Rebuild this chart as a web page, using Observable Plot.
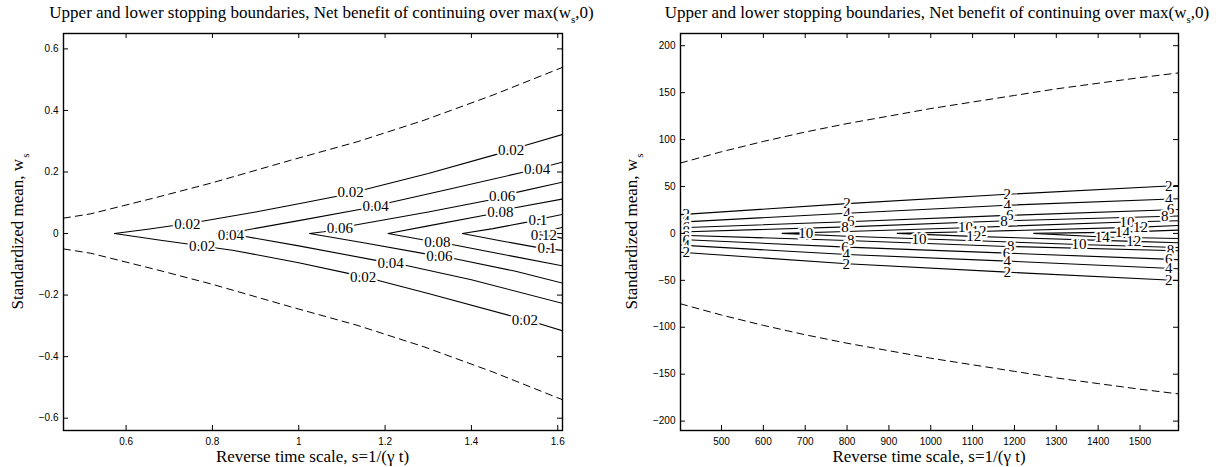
<!DOCTYPE html>
<html><head><meta charset="utf-8">
<script src="https://cdn.jsdelivr.net/npm/d3@7"></script>
<script src="https://cdn.jsdelivr.net/npm/@observablehq/plot@0.6"></script>
<style>
body{margin:0;background:#fff;}
#wrap{display:flex;width:1224px;height:467px;overflow:hidden;}
</style></head><body><div id="wrap"></div>
<script>
// ---------- LEFT PANEL DATA ----------
const leftXTicks = [0.6, 0.8, 1, 1.2, 1.4, 1.6];
const leftYTicks = [-0.6, -0.4, -0.2, 0, 0.2, 0.4, 0.6];
const leftBoundS = [0.455, 0.518, 0.672, 0.8, 0.981, 1.135, 1.29, 1.45, 1.611];
const leftBoundUpper = [0.05, 0.064, 0.118, 0.165, 0.238, 0.298, 0.368, 0.45, 0.54];
const leftBoundLower = [-0.05, -0.064, -0.118, -0.165, -0.238, -0.298, -0.368, -0.45, -0.54];
const leftLevels = ["0.02", "0.04", "0.06", "0.08", "0.1", "0.12"];
const leftContourS = [
  [1.611, 1.522, 1.46, 1.3, 1.151, 1.089, 1.0, 0.9, 0.776, 0.711, 0.65, 0.573, 0.68, 0.76, 0.85, 1.0, 1.12, 1.18, 1.3, 1.49, 1.556, 1.611],
  [1.611, 1.583, 1.522, 1.35, 1.209, 1.147, 1.0, 0.873, 0.81, 0.873, 1.0, 1.182, 1.244, 1.4, 1.611],
  [1.611, 1.502, 1.44, 1.3, 1.128, 1.058, 1.025, 1.15, 1.294, 1.359, 1.5, 1.611],
  [1.611, 1.498, 1.437, 1.3, 1.207, 1.29, 1.352, 1.5, 1.611],
  [1.611, 1.579, 1.529, 1.45, 1.379, 1.47, 1.552, 1.611],
  [1.611, 1.58, 1.537, 1.58, 1.611]
];
const leftContourW = [
  [0.322, 0.285, 0.258, 0.195, 0.142, 0.121, 0.097, 0.07, 0.04, 0.026, 0.014, 0, -0.022, -0.037, -0.055, -0.095, -0.131, -0.151, -0.195, -0.267, -0.292, -0.316],
  [0.232, 0.222, 0.2, 0.145, 0.1, 0.08, 0.042, 0.01, 0, -0.009, -0.04, -0.088, -0.102, -0.15, -0.227],
  [0.167, 0.133, 0.108, 0.07, 0.027, 0.006, 0, -0.03, -0.066, -0.081, -0.122, -0.161],
  [0.112, 0.083, 0.061, 0.025, 0, -0.021, -0.035, -0.075, -0.105],
  [0.062, 0.053, 0.037, 0.016, 0, -0.024, -0.045, -0.055],
  [0.02, 0.01, 0, -0.008, -0.015]
];
const leftLabelS = [0.742, 1.12, 1.492, 0.776, 1.149, 1.524, 1.178, 1.552, 0.843, 1.213, 1.095, 1.471, 1.326, 1.467, 1.321, 1.554, 1.575, 1.568];
const leftLabelW = [0.03, 0.133, 0.271, -0.04, -0.141, -0.28, 0.09, 0.21, -0.004, -0.095, 0.017, 0.12, -0.073, 0.071, -0.027, 0.045, -0.049, -0.004];
const leftLabelT = ["0.02","0.02","0.02","0.02","0.02","0.02","0.04","0.04","0.04","0.04","0.06","0.06","0.06","0.08","0.08","0.1","0.1","0.12"];

// ---------- RIGHT PANEL DATA ----------
const rightXTicks = [500, 600, 700, 800, 900, 1000, 1100, 1200, 1300, 1400, 1500];
const rightYTicks = [-200, -150, -100, -50, 0, 50, 100, 150, 200];
const rightBoundS = [402, 500, 600, 700, 800, 900, 1000, 1100, 1200, 1300, 1400, 1500, 1592];
const rightBoundUpper = [75, 87, 98, 108, 117, 125, 133, 140, 147, 154, 160, 166, 171];
const rightBoundLower = [-75, -87, -98, -108, -117, -125, -133, -140, -147, -154, -160, -166, -171];
const rightLevels = ["2", "2", "4", "4", "6", "6", "8", "8", "10", "12", "14"];
const rightContourS = [
  [402, 800, 1183, 1592],
  [402, 800, 1183, 1592],
  [402, 800, 1183, 1592],
  [402, 800, 1183, 1592],
  [402, 800, 1183, 1592],
  [402, 800, 1183, 1592],
  [402, 800, 1183, 1592],
  [402, 800, 1183, 1592],
  [1592, 1469, 1083, 800, 645, 800, 972, 1354, 1592],
  [1592, 1501, 1115, 920, 1100, 1485, 1592],
  [1592, 1458, 1246, 1410, 1592]
];
const rightContourW = [
  [20, 31.7, 41.7, 51],
  [-20, -32.4, -41.3, -50.2],
  [12, 21.5, 30, 37],
  [-12.5, -22.5, -29.5, -37.7],
  [6, 12.5, 19.2, 25.5],
  [-6.5, -14.6, -21, -28],
  [1.5, 7, 13.5, 18.5],
  [-2, -7.5, -13.9, -18.5],
  [13.5, 12.1, 6.1, 2, 0, -3, -5.7, -11.8, -15],
  [8.5, 6.7, 2.1, 0, -3.2, -8.5, -10],
  [3.5, 1.4, 0, -3.9, -5.5]
];
const rightLabelS = [416,416,416,416,416,416,416,416, 800,800,809,795, 809,795,798,798, 701, 972, 1083,1115,1103, 1183,1183,1189,1175, 1191,1181,1183,1183, 1354,1410,1469,1501,1458,1485, 1569,1569,1573,1559, 1573,1569,1569,1569];
const rightLabelW = [20.5,12.5,6.3,2.5,-2.5,-7,-12.8,-20.4, 31.7,21.5,12.7,6.8, -7.6,-14.5,-22.5,-32.4, 0.3, -5.7, 6.1,2.1,-3.2, 41.7,30,19.3,13.3, -13.9,-21,-29.5,-41.3, -11.8,-3.9,12.1,6.7,1.4,-8.5, 50.3,36.2,25.3,18.3, -18.3,-27.8,-37.5,-50];
const rightLabelT = ["2","4","6","8","8","6","4","2", "2","4","6","8", "8","6","4","2", "10", "10", "10","12","12", "2","4","6","8", "8","6","4","2", "10","14","10","12","14","12", "2","4","6","8","8","6","4","2"];

// ---------- BUILD ----------
const H = 467, MT = 33, MB = 37;
const serif = "'Liberation Serif', 'Times New Roman', serif";
const sans = "'Liberation Sans', Arial, Helvetica, sans-serif";
const fmt = d3.format("~g");

function toRows(sArr, wArr, id) { return sArr.map((s, i) => ({s, w: wArr[i], id})); }

function panel(o) {
  const pw = o.width - o.ml - o.mr, ph = H - MT - MB;
  const bounds = [...toRows(o.bS, o.bU, "u"), ...toRows(o.bS, o.bL, "l")];
  const contours = o.cS.flatMap((sArr, i) => toRows(sArr, o.cW[i], "c" + i));
  const labels = o.lS.map((s, i) => ({s, w: o.lW[i], t: o.lT[i]}));
  const svg = Plot.plot({
    width: o.width, height: H,
    marginLeft: o.ml, marginRight: o.mr, marginTop: MT, marginBottom: MB,
    style: {fontFamily: sans, fontSize: "10px", background: "#fff", color: "#000", overflow: "visible"},
    x: {domain: o.xDomain},
    y: {domain: o.yDomain},
    marks: [
      Plot.line(bounds, {x: "s", y: "w", z: "id", stroke: "black", strokeWidth: 1, strokeDasharray: "7,5", clip: true}),
      Plot.line(contours, {x: "s", y: "w", z: "id", stroke: "black", strokeWidth: 1.1, clip: true}),
      Plot.text(labels, {x: "s", y: "w", text: "t", fontFamily: serif, fontSize: 15, fill: "black", stroke: "white", strokeWidth: 4, paintOrder: "stroke"}),
      Plot.frame({stroke: "black", strokeWidth: 1.4}),
      Plot.tickX(o.xTicks, {x: d => d, insetTop: ph - 5, stroke: "black"}),
      Plot.tickX(o.xTicks, {x: d => d, insetBottom: ph - 5, stroke: "black"}),
      Plot.tickY(o.yTicks, {y: d => d, insetRight: pw - 5, stroke: "black"}),
      Plot.tickY(o.yTicks, {y: d => d, insetLeft: pw - 5, stroke: "black"}),
      Plot.axisX(o.xTicks, {tickSize: 0, tickPadding: 7, tickFormat: fmt, label: null}),
      Plot.axisY(o.yTicks, {tickSize: 0, tickPadding: 5, tickFormat: fmt, label: null})
    ]
  });
  const s = d3.select(svg);
  s.selectAll("text").filter(function(){ return this.getAttribute("stroke") === "white"; }).attr("paint-order", "stroke");
  const cx = o.ml + pw / 2;
  // title
  const t = s.append("text").attr("x", cx + o.titleDx).attr("y", 18).attr("text-anchor", "middle")
    .style("font-family", serif).style("font-size", "17px").attr("fill", "black");
  t.append("tspan").text("Upper and lower stopping boundaries, Net benefit of continuing over max(w");
  t.append("tspan").attr("dy", 5).style("font-size", "11px").text("s");
  t.append("tspan").attr("dy", -5).text(",0)");
  // x label
  s.append("text").attr("x", cx).attr("y", 462).attr("text-anchor", "middle")
    .style("font-family", serif).style("font-size", "17px").attr("fill", "black")
    .text("Reverse time scale, s=1/(\u03B3 t)");
  // y label
  const yl = s.append("text").attr("transform", `translate(${o.ylx},${MT + ph / 2}) rotate(-90)`)
    .attr("text-anchor", "middle").style("font-family", serif).style("font-size", "17px").attr("fill", "black");
  yl.append("tspan").text("Standardized mean, w");
  yl.append("tspan").attr("dy", 6).attr("dx", 1).style("font-size", "11px").text("s");
  return svg;
}

const wrap = document.getElementById("wrap");
wrap.appendChild(panel({
  width: 612, ml: 63, mr: 50, xDomain: [0.455, 1.611], yDomain: [-0.64, 0.65],
  xTicks: leftXTicks, yTicks: leftYTicks,
  bS: leftBoundS, bU: leftBoundUpper, bL: leftBoundLower,
  cS: leftContourS, cW: leftContourW,
  lS: leftLabelS, lW: leftLabelW, lT: leftLabelT, ylx: 23, titleDx: 9
}));
wrap.appendChild(panel({
  width: 612, ml: 68, mr: 46, xDomain: [402, 1592], yDomain: [-210, 213],
  xTicks: rightXTicks, yTicks: rightYTicks,
  bS: rightBoundS, bU: rightBoundUpper, bL: rightBoundLower,
  cS: rightContourS, cW: rightContourW,
  lS: rightLabelS, lW: rightLabelW, lT: rightLabelT, ylx: 25, titleDx: 8
}));
</script></body></html>
